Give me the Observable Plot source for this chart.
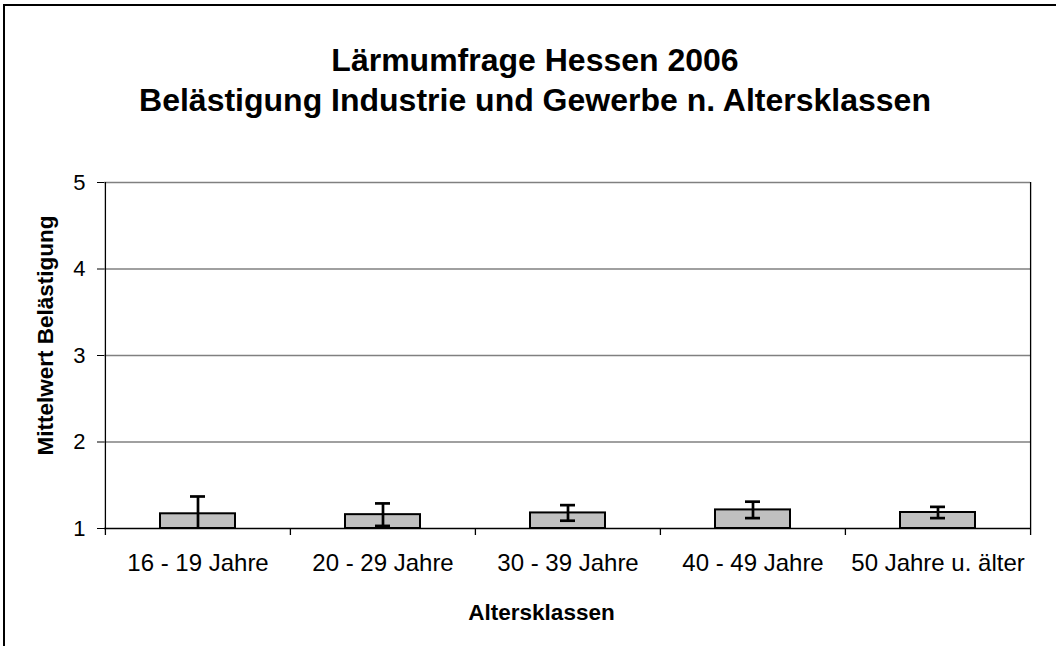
<!DOCTYPE html>
<html>
<head>
<meta charset="utf-8">
<script src="https://cdn.jsdelivr.net/npm/d3@7"></script>
<script src="https://cdn.jsdelivr.net/npm/@observablehq/plot@0.6"></script>
<style>
  html, body { margin: 0; padding: 0; background: #fff; }
  #wrap { position: relative; width: 1056px; height: 646px; overflow: hidden; font-family: "Liberation Sans", Arial, sans-serif; }
  #border { position: absolute; left: 3px; top: 4px; width: 1200px; height: 800px; border: 2px solid #000; box-sizing: border-box; }
  #title { position: absolute; left: 0; top: 40px; width: 1070px; text-align: center; font-weight: bold; font-size: 32px; line-height: 40px; color: #000; }
  #chart { position: absolute; left: 0; top: 0; }
</style>
</head>
<body>
<div id="wrap">
  <div id="border"></div>
  <div id="title">Lärmumfrage Hessen 2006<br>Belästigung Industrie und Gewerbe n. Altersklassen</div>
  <div id="chart"></div>
</div>
<script>
const categories = ["16 - 19 Jahre", "20 - 29 Jahre", "30 - 39 Jahre", "40 - 49 Jahre", "50 Jahre u. älter"];
const means = [1.17, 1.16, 1.18, 1.215, 1.185];
const errors = [0.20, 0.13, 0.09, 0.095, 0.065];
const yTicks = [1, 2, 3, 4, 5];
const xTitle = "Altersklassen";
const yTitle = "Mittelwert Belästigung";

const data = categories.map((c, i) => ({cat: c, mean: means[i], lo: means[i] - errors[i], hi: means[i] + errors[i]}));

const W = 1056, H = 646, mL = 104, mR = 26, mT = 182, mB = 118;
const plotW = W - mL - mR, plotH = H - mT - mB;
const step = plotW / categories.length;

const chart = Plot.plot({
  width: W, height: H,
  marginLeft: mL, marginRight: mR, marginTop: mT, marginBottom: mB,
  style: {fontFamily: "'Liberation Sans', Arial, sans-serif", background: "transparent", overflow: "visible", color: "#000"},
  x: {domain: categories, paddingInner: 0.595, paddingOuter: 0.2975, axis: null},
  y: {domain: [1, 5], axis: null},
  marks: [
    Plot.ruleY(yTicks.slice(1), {stroke: "#808080", strokeWidth: 1.3}),
    Plot.barY(data, {x: "cat", y1: 1, y2: "mean", fill: "#c0c0c0", stroke: "#000", strokeWidth: 2}),
    Plot.ruleX(data, {x: "cat", y1: "lo", y2: "hi", stroke: "#000", strokeWidth: 2.7, clip: true}),
    Plot.tickY(data, {x: "cat", y: "hi", stroke: "#000", strokeWidth: 2.7, insetLeft: 30, insetRight: 30, clip: true}),
    Plot.tickY(data, {x: "cat", y: "lo", stroke: "#000", strokeWidth: 2.7, insetLeft: 30, insetRight: 30, clip: true}),
    Plot.ruleY([1], {stroke: "#000", strokeWidth: 1.3}),
    // left axis line + category boundary ticks
    Plot.ruleX(categories.slice(0, 1), {x: d => d, dx: -step / 2, stroke: "#000", strokeWidth: 1.3, insetBottom: -7}),
    Plot.ruleX(categories.slice(1), {x: d => d, dx: -step / 2, stroke: "#000", strokeWidth: 1.3, insetTop: plotH, insetBottom: -7}),
    Plot.ruleX(categories.slice(-1), {x: d => d, dx: step / 2, stroke: "#000", strokeWidth: 1.3, insetBottom: -7}),
    Plot.axisY({ticks: yTicks, tickFormat: d3.format("d"), tickSize: 7, tickPadding: 12, fontSize: 22, label: null, stroke: "#000", fill: "#000"}),
    Plot.axisX({tickSize: 0, tickPadding: 25, fontSize: 24, label: null, fill: "#000"}),
    Plot.text([xTitle], {frameAnchor: "bottom", lineAnchor: "middle", textAnchor: "middle", dx: -26, dy: 84, fontSize: 22.5, fontWeight: "bold", fill: "#000"}),
    Plot.text([yTitle], {frameAnchor: "left", lineAnchor: "middle", textAnchor: "middle", rotate: -90, dx: -59, dy: -20, fontSize: 22.5, fontWeight: "bold", fill: "#000"})
  ]
});
document.getElementById("chart").appendChild(chart);
</script>
</body>
</html>
